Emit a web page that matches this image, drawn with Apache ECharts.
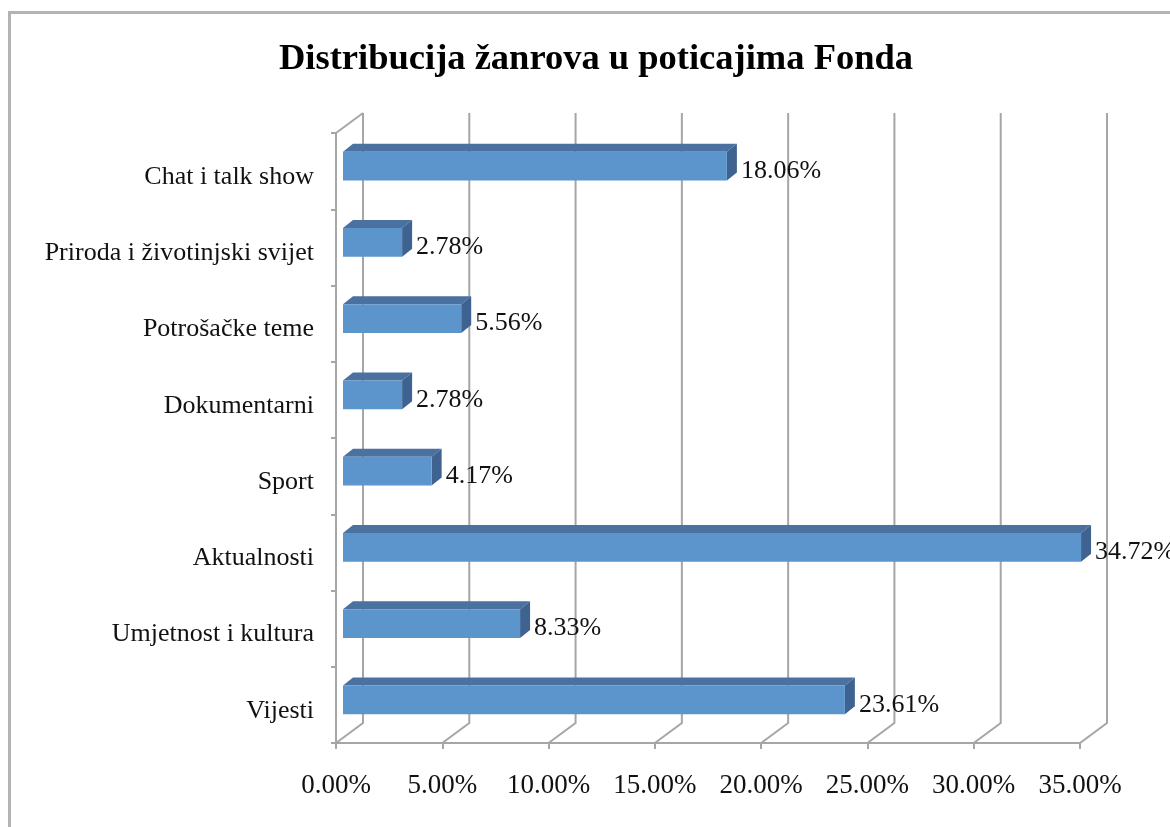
<!DOCTYPE html>
<html>
<head>
<meta charset="utf-8">
<script src="https://cdn.jsdelivr.net/npm/echarts@6/dist/echarts.min.js"></script>
<style>
  html, body { margin: 0; padding: 0; background: #fff; }
  #chart { width: 1170px; height: 827px; }
</style>
</head>
<body>
<div id="chart"></div>
<script>
// data, bottom to top as in the picture
var genreList = ['Vijesti', 'Umjetnost i kultura', 'Aktualnosti', 'Sport',
    'Dokumentarni', 'Potrošačke teme', 'Priroda i životinjski svijet', 'Chat i talk show'];
var shareList = [23.61, 8.33, 34.72, 4.17, 2.78, 5.56, 2.78, 18.06];
var tickList = [0, 5, 10, 15, 20, 25, 30, 35];

// depth of the fake 3d wall and of the bar boxes
var wallDx = 27, wallDy = -20;
var barShiftX = 7, barShiftY = -5;
var boxDx = 10, boxDy = -8;
var lineColor = '#a6a6a6';
var serif = '"Liberation Serif", "DejaVu Serif", serif';

var chart = echarts.init(document.getElementById('chart'), null, {renderer: 'canvas'});

function renderWall(params, api) {
    var v = api.value(0);
    var cs = params.coordSys;
    var px = api.coord([v, 0])[0];
    var bottom = cs.y + cs.height;
    var top = cs.y;
    var children = [{
        type: 'polyline',
        shape: {points: [[px, bottom], [px + wallDx, bottom + wallDy], [px + wallDx, top + wallDy]]},
        style: {stroke: lineColor, lineWidth: 2, fill: null}
    }];
    if (v === 0) {
        children.push({
            type: 'line',
            shape: {x1: px, y1: top, x2: px + wallDx, y2: top + wallDy},
            style: {stroke: lineColor, lineWidth: 2}
        });
    }
    return {type: 'group', children: children};
}

function renderBar(params, api) {
    var idx = api.value(0);
    var v = api.value(1);
    var start = api.coord([0, idx]);
    var end = api.coord([v, idx]);
    var band = api.size([0, 1])[1];
    var h = band * 0.38;
    var x = start[0] + barShiftX;
    var w = end[0] - start[0];
    var y = start[1] + barShiftY - h / 2;
    return {
        type: 'group',
        children: [{
            type: 'polygon',
            shape: {points: [[x, y], [x + boxDx, y + boxDy], [x + w + boxDx, y + boxDy], [x + w, y]]},
            style: {fill: '#4a71a0'}
        }, {
            type: 'polygon',
            shape: {points: [[x + w, y], [x + w + boxDx, y + boxDy], [x + w + boxDx, y + h + boxDy], [x + w, y + h]]},
            style: {fill: '#3e6390'}
        }, {
            type: 'rect',
            shape: {x: x, y: y, width: w, height: h},
            style: {fill: '#5b95cb'}
        }, {
            type: 'text',
            x: x + w + boxDx + 4,
            y: y + h / 2 + 5,
            style: {
                text: v.toFixed(2) + '%',
                font: '26px ' + serif,
                fill: '#111',
                verticalAlign: 'middle',
                align: 'left'
            }
        }]
    };
}

chart.setOption({
    backgroundColor: '#fff',
    animation: false,
    title: {
        text: 'Distribucija žanrova u poticajima Fonda',
        left: 274,
        top: 36,
        textStyle: {fontFamily: serif, fontSize: 36.5, fontWeight: 'bold', color: '#000'}
    },
    graphic: [{
        type: 'rect',
        left: 7, top: 10,
        shape: {width: 1200, height: 900},
        style: {fill: null, stroke: '#b3b3b3', lineWidth: 3}
    }],
    grid: {left: 336, right: 90, top: 133, bottom: 84},
    xAxis: {
        type: 'value',
        min: 0,
        max: 35,
        interval: 5,
        axisLine: {show: true, lineStyle: {color: lineColor, width: 2}},
        axisTick: {show: true, length: 6, lineStyle: {color: lineColor, width: 2}},
        splitLine: {show: false},
        axisLabel: {
            margin: 29,
            fontFamily: serif,
            fontSize: 27,
            color: '#111',
            formatter: function (v) { return v.toFixed(2) + '%'; }
        }
    },
    yAxis: {
        type: 'category',
        data: genreList,
        axisLine: {show: true, lineStyle: {color: lineColor, width: 2}},
        axisTick: {show: true, length: 5, lineStyle: {color: lineColor, width: 2}},
        axisLabel: {
            margin: 22,
            formatter: function (v) { return '{g|' + v + '}'; },
            rich: {
                g: {fontFamily: serif, fontSize: 26, color: '#111', padding: [12, 0, 0, 0]}
            }
        }
    },
    series: [{
        type: 'custom',
        name: 'wall',
        renderItem: renderWall,
        data: tickList.map(function (t) { return [t]; }),
        encode: {x: 0},
        z: 1,
        silent: true
    }, {
        type: 'custom',
        name: 'share',
        renderItem: renderBar,
        data: shareList.map(function (v, i) { return [i, v]; }),
        encode: {y: 0, x: 1},
        z: 2
    }]
});
</script>
</body>
</html>
